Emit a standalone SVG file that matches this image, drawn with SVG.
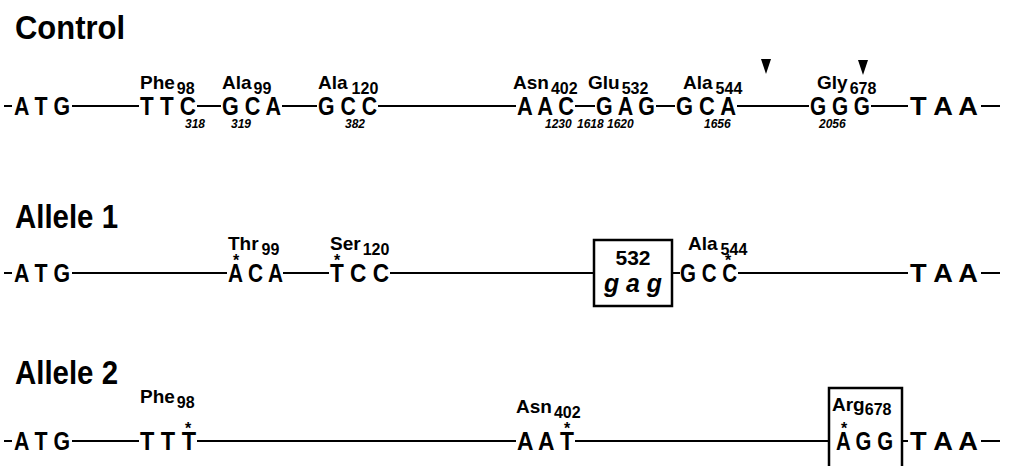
<svg xmlns="http://www.w3.org/2000/svg" width="1010" height="466" viewBox="0 0 1010 466">
<style>
text{font-family:"Liberation Sans",Arial,Helvetica,sans-serif;font-weight:bold;fill:#000}
.title{font-size:33px}
.seq{font-size:26px}
.lab{font-size:19px}
.sub{font-size:16px}
.num{font-size:12px;font-style:italic}
.star{font-size:16px}
.gag{font-size:26px;font-style:italic}
.ln{stroke:#000;stroke-width:2;fill:none}
.box{stroke:#000;stroke-width:2.5;fill:#fff}
</style>
<rect width="1010" height="466" fill="#fff"/>

<!-- Titles -->
<text id="title-control" class="title" x="15" y="39" textLength="110" lengthAdjust="spacingAndGlyphs">Control</text>
<text id="title-allele1" class="title" x="15" y="228" textLength="103" lengthAdjust="spacingAndGlyphs">Allele 1</text>
<text id="title-allele2" class="title" x="15" y="384" textLength="103" lengthAdjust="spacingAndGlyphs">Allele 2</text>

<!-- Connectors -->
<g id="connectors" class="ln">
  <!-- Control row, y=106 -->
  <line x1="4" y1="106" x2="12" y2="106"/>
  <line x1="72" y1="106" x2="139" y2="106"/>
  <line x1="197" y1="106" x2="221" y2="106"/>
  <line x1="282" y1="106" x2="317" y2="106"/>
  <line x1="378" y1="106" x2="516" y2="106"/>
  <line x1="575" y1="106" x2="595" y2="106"/>
  <line x1="656" y1="106" x2="675" y2="106"/>
  <line x1="737" y1="106" x2="809" y2="106"/>
  <line x1="871" y1="106" x2="908" y2="106"/>
  <line x1="981" y1="106" x2="1000" y2="106"/>
  <!-- Allele 1 row, y=273 -->
  <line x1="4" y1="273" x2="12" y2="273"/>
  <line x1="72" y1="273" x2="227" y2="273"/>
  <line x1="283" y1="273" x2="329" y2="273"/>
  <line x1="390" y1="273" x2="594" y2="273"/>
  <line x1="672" y1="273" x2="680" y2="273"/>
  <line x1="738" y1="273" x2="908" y2="273"/>
  <line x1="981" y1="273" x2="1000" y2="273"/>
  <!-- Allele 2 row, y=441 -->
  <line x1="4" y1="441" x2="12" y2="441"/>
  <line x1="72" y1="441" x2="139" y2="441"/>
  <line x1="197" y1="441" x2="516" y2="441"/>
  <line x1="575" y1="441" x2="829" y2="441"/>
  <line x1="902" y1="441" x2="908" y2="441"/>
  <line x1="981" y1="441" x2="1000" y2="441"/>
</g>

<!-- Arrowheads -->
<g id="arrowheads">
  <polygon points="761,59 771,59 766,74"/>
  <polygon points="858,60 868,60 863,75"/>
</g>

<!-- Control row -->
<g id="control-row">
  <g id="c-atg"><text class="seq" x="14" y="115" textLength="56" lengthAdjust="spacingAndGlyphs">A T G</text></g>
  <g id="c-phe98">
    <text class="lab" x="140" y="89">Phe<tspan class="sub" dy="5" dx="2">98</tspan></text>
    <text class="seq" x="140" y="115" textLength="56" lengthAdjust="spacingAndGlyphs">T T C</text>
    <text class="num" x="185" y="128">318</text>
  </g>
  <g id="c-ala99">
    <text class="lab" x="222" y="89">Ala<tspan class="sub" dy="5" dx="2">99</tspan></text>
    <text class="seq" x="222" y="115" textLength="59" lengthAdjust="spacingAndGlyphs">G C A</text>
    <text class="num" x="231" y="128">319</text>
  </g>
  <g id="c-ala120">
    <text class="lab" x="318" y="89">Ala<tspan class="sub" dy="5" dx="4">120</tspan></text>
    <text class="seq" x="318" y="115" textLength="59" lengthAdjust="spacingAndGlyphs">G C C</text>
    <text class="num" x="345" y="128">382</text>
  </g>
  <g id="c-asn402">
    <text class="lab" x="513" y="89">Asn<tspan class="sub" dy="5" dx="2">402</tspan></text>
    <text class="seq" x="517" y="115" textLength="57" lengthAdjust="spacingAndGlyphs">A A C</text>
    <text class="num" x="545" y="128">1230</text>
  </g>
  <g id="c-glu532">
    <text class="lab" x="588" y="89">Glu<tspan class="sub" dy="5" dx="2">532</tspan></text>
    <text class="seq" x="596" y="115" textLength="59" lengthAdjust="spacingAndGlyphs">G A G</text>
    <text class="num" x="577" y="128">1618</text>
    <text class="num" x="607" y="128">1620</text>
  </g>
  <g id="c-ala544">
    <text class="lab" x="683" y="89">Ala<tspan class="sub" dy="5" dx="3">544</tspan></text>
    <text class="seq" x="676" y="115" textLength="60" lengthAdjust="spacingAndGlyphs">G C A</text>
    <text class="num" x="704" y="128">1656</text>
  </g>
  <g id="c-gly678">
    <text class="lab" x="817" y="89">Gly<tspan class="sub" dy="5" dx="2">678</tspan></text>
    <text class="seq" x="810" y="115" textLength="60" lengthAdjust="spacingAndGlyphs">G G G</text>
    <text class="num" x="819" y="128">2056</text>
  </g>
  <g id="c-taa"><text class="seq" x="910" y="115" textLength="68" lengthAdjust="spacingAndGlyphs">T A A</text></g>
</g>

<!-- Allele 1 row -->
<g id="allele1-row">
  <g id="a1-atg"><text class="seq" x="14" y="282" textLength="56" lengthAdjust="spacingAndGlyphs">A T G</text></g>
  <g id="a1-thr99">
    <text class="lab" x="228" y="250">Thr<tspan class="sub" dy="5" dx="3">99</tspan></text>
    <text class="star" x="233" y="266">*</text>
    <text class="seq" x="228" y="282" textLength="55" lengthAdjust="spacingAndGlyphs">A C A</text>
  </g>
  <g id="a1-ser120">
    <text class="lab" x="330" y="250">Ser<tspan class="sub" dy="5" dx="2">120</tspan></text>
    <text class="star" x="334" y="266">*</text>
    <text class="seq" x="330" y="282" textLength="59" lengthAdjust="spacingAndGlyphs">T C C</text>
  </g>
  <g id="a1-532">
    <rect class="box" x="594" y="240" width="78" height="66"/>
    <text class="lab" x="633" y="265" text-anchor="middle" style="font-size:21px">532</text>
    <text class="gag" x="604" y="292" textLength="58" lengthAdjust="spacingAndGlyphs">g a g</text>
  </g>
  <g id="a1-ala544">
    <text class="lab" x="688" y="250">Ala<tspan class="sub" dy="5" dx="3">544</tspan></text>
    <text class="star" x="725" y="266">*</text>
    <text class="seq" x="680" y="282" textLength="57" lengthAdjust="spacingAndGlyphs">G C C</text>
  </g>
  <g id="a1-taa"><text class="seq" x="910" y="282" textLength="68" lengthAdjust="spacingAndGlyphs">T A A</text></g>
</g>

<!-- Allele 2 row -->
<g id="allele2-row">
  <g id="a2-atg"><text class="seq" x="14" y="450" textLength="56" lengthAdjust="spacingAndGlyphs">A T G</text></g>
  <g id="a2-phe98">
    <text class="lab" x="140" y="403">Phe<tspan class="sub" dy="5" dx="2">98</tspan></text>
    <text class="star" x="185" y="434">*</text>
    <text class="seq" x="140" y="450" textLength="56" lengthAdjust="spacingAndGlyphs">T T T</text>
  </g>
  <g id="a2-asn402">
    <text class="lab" x="516" y="413">Asn<tspan class="sub" dy="5" dx="2">402</tspan></text>
    <text class="star" x="564" y="434">*</text>
    <text class="seq" x="517" y="450" textLength="57" lengthAdjust="spacingAndGlyphs">A A T</text>
  </g>
  <g id="a2-arg678">
    <rect class="box" x="829" y="388" width="73" height="82"/>
    <text class="lab" x="832" y="411">Arg<tspan class="sub" dy="4" dx="0">678</tspan></text>
    <text class="star" x="841" y="434">*</text>
    <text class="seq" x="836" y="450" textLength="57" lengthAdjust="spacingAndGlyphs">A G G</text>
  </g>
  <g id="a2-taa"><text class="seq" x="910" y="450" textLength="68" lengthAdjust="spacingAndGlyphs">T A A</text></g>
</g>
</svg>
